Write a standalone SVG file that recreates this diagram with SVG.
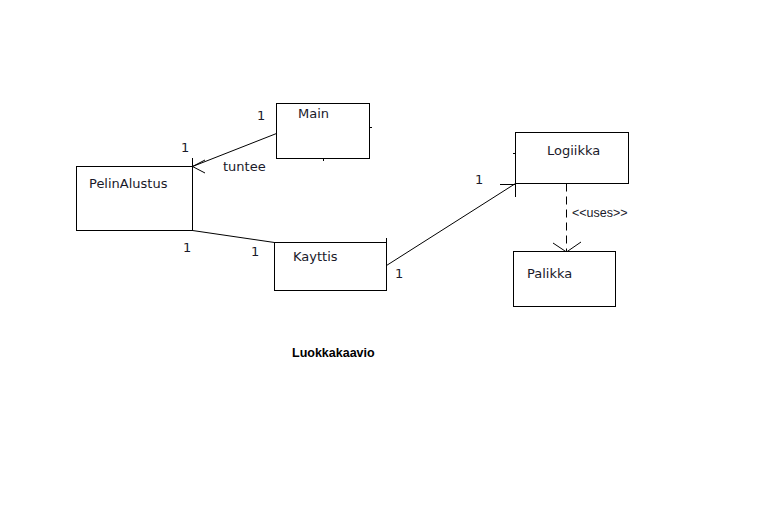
<svg xmlns="http://www.w3.org/2000/svg" width="768" height="507" viewBox="0 0 768 507">
<style>
.box{fill:#fff;stroke:#000;stroke-width:1;shape-rendering:crispEdges}
.ln{fill:none;stroke:#000;stroke-width:1}
.t{font-family:"DejaVu Sans",sans-serif;font-size:13px;fill:#1a1a2a}
.u{font-family:"Liberation Sans",Arial,sans-serif;font-size:12.5px;fill:#1a1a2a}
.b{font-family:"Liberation Sans",Arial,sans-serif;font-size:12.5px;font-weight:bold;fill:#000}
</style>
<rect width="768" height="507" fill="#fff"/>
<g id="connectors">
<path class="ln" d="M276.5 133.5 L192.5 166.5"/>
<path class="ln" d="M192.5 166.5 L205 160 M192.5 166.5 L205 173 M192.5 158 L192.5 166.5"/>
<path class="ln" d="M192.5 230.5 L274.5 242.5"/>
<path class="ln" d="M386.5 265.5 L515.5 183.5"/>
<path class="ln" d="M515.5 183.5 L515.5 197 M500 184.5 L515.5 184.5"/>
<path class="ln" d="M566.5 183.5 L566.5 252" stroke-dasharray="8,5"/>
<path class="ln" d="M553 243 L566.5 252 L581 242"/>
<text class="t" x="257" y="120">1</text>
<text class="t" x="181" y="152">1</text>
<text class="t" x="223" y="171">tuntee</text>
<text class="t" x="183" y="252">1</text>
<text class="t" x="251" y="256">1</text>
<text class="t" x="475" y="184">1</text>
<text class="t" x="395" y="278">1</text>
<text class="u" x="572" y="217">&lt;&lt;uses&gt;&gt;</text>
</g>
<g id="main">
<rect class="box" x="276.5" y="103.5" width="93" height="55"/>
<path class="ln" d="M369.5 127.5 L371.5 127.5 M323.5 158.5 L323.5 161" shape-rendering="crispEdges"/>
<text class="t" x="298" y="118">Main</text>
</g>
<g id="pelinalustus">
<rect class="box" x="76.5" y="166.5" width="116" height="64"/>
<text class="t" x="89" y="188">PelinAlustus</text>
</g>
<g id="kayttis">
<rect class="box" x="274.5" y="242.5" width="112" height="48"/>
<path class="ln" d="M386.5 238 L386.5 242.5" shape-rendering="crispEdges"/>
<text class="t" x="293" y="261">Kayttis</text>
</g>
<g id="logiikka">
<rect class="box" x="515.5" y="132.5" width="113" height="51"/>
<path class="ln" d="M513 153.5 L515.5 153.5" shape-rendering="crispEdges"/>
<text class="t" x="547" y="155">Logiikka</text>
</g>
<g id="palikka">
<rect class="box" x="513.5" y="251.5" width="102" height="55"/>
<text class="t" x="527" y="278">Palikka</text>
</g>
<text class="b" x="292" y="357">Luokkakaavio</text>
</svg>
